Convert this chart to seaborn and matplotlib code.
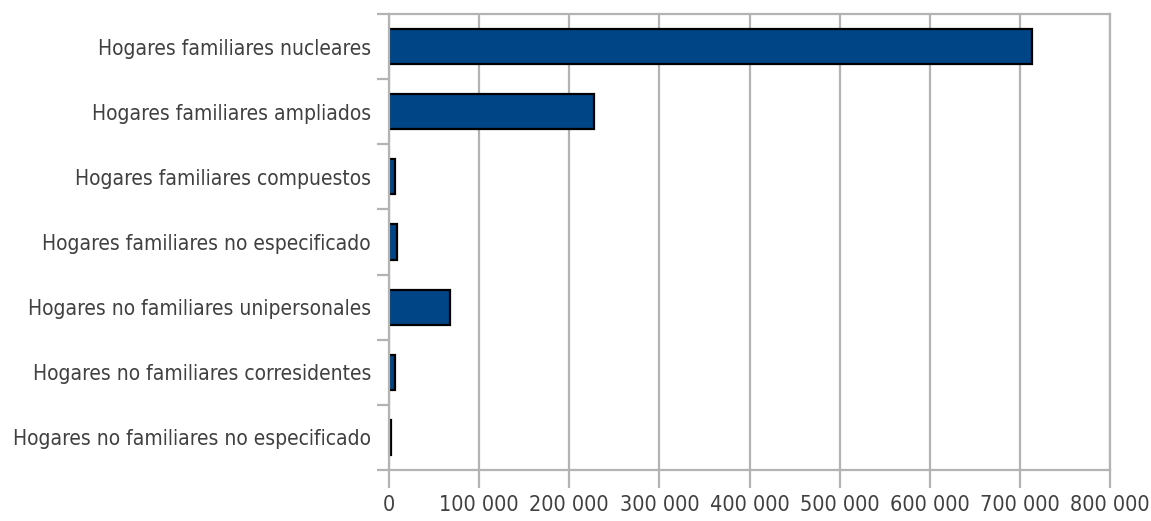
import matplotlib
matplotlib.use("Agg")
import matplotlib.pyplot as plt
from matplotlib.ticker import FuncFormatter, FixedLocator
import seaborn as sns
import pandas as pd
import numpy as np

categories = [
    "Hogares familiares nucleares",
    "Hogares familiares ampliados",
    "Hogares familiares compuestos",
    "Hogares familiares no especificado",
    "Hogares no familiares unipersonales",
    "Hogares no familiares corresidentes",
    "Hogares no familiares no especificado",
]
hogares = [713000, 227000, 6500, 8500, 68000, 6500, 2500]
x_ticks = [0, 100000, 200000, 300000, 400000, 500000, 600000, 700000, 800000]

df = pd.DataFrame({"tipo": categories, "hogares": hogares})

sns.set_theme(style="white")
plt.rcParams["font.family"] = ["Liberation Sans Narrow", "DejaVu Sans", "Liberation Sans"]
plt.rcParams["font.stretch"] = "condensed"

grid_color = "#b3b3b3"
text_color = "#404040"

fig = plt.figure(figsize=(11.51, 5.21), dpi=100)
ax = fig.add_axes([0.338, 0.0979, 0.6264, 0.8752])

sns.barplot(data=df, y="tipo", x="hogares", orient="h", color="#004586",
            saturation=1, width=0.54, edgecolor="black", linewidth=1.6, ax=ax)

ax.set_xlim(0, 800000)
ax.set_ylim(len(categories) - 0.5, -0.5)
ax.xaxis.set_major_locator(FixedLocator(x_ticks))
ax.xaxis.set_major_formatter(FuncFormatter(lambda v, p: f"{int(v):,}".replace(",", " ")))
ax.grid(axis="x", color=grid_color, linewidth=1.6)
ax.set_axisbelow(True)

for s in ax.spines.values():
    s.set_color(grid_color)
    s.set_linewidth(1.6)

# category boundaries carry the y tick marks
ax.yaxis.set_minor_locator(FixedLocator(np.arange(-0.5, len(categories), 1.0)))
ax.tick_params(axis="y", which="major", length=0, pad=13, labelsize=15, labelcolor=text_color)
ax.tick_params(axis="y", which="minor", left=True, length=9, width=1.6, color=grid_color)
ax.tick_params(axis="x", which="major", bottom=True, length=13, width=1.6, color=grid_color,
               pad=5, labelsize=15.5, labelcolor=text_color)

ax.set_xlabel("")
ax.set_ylabel("")

fig.savefig("out.png", dpi=100)
